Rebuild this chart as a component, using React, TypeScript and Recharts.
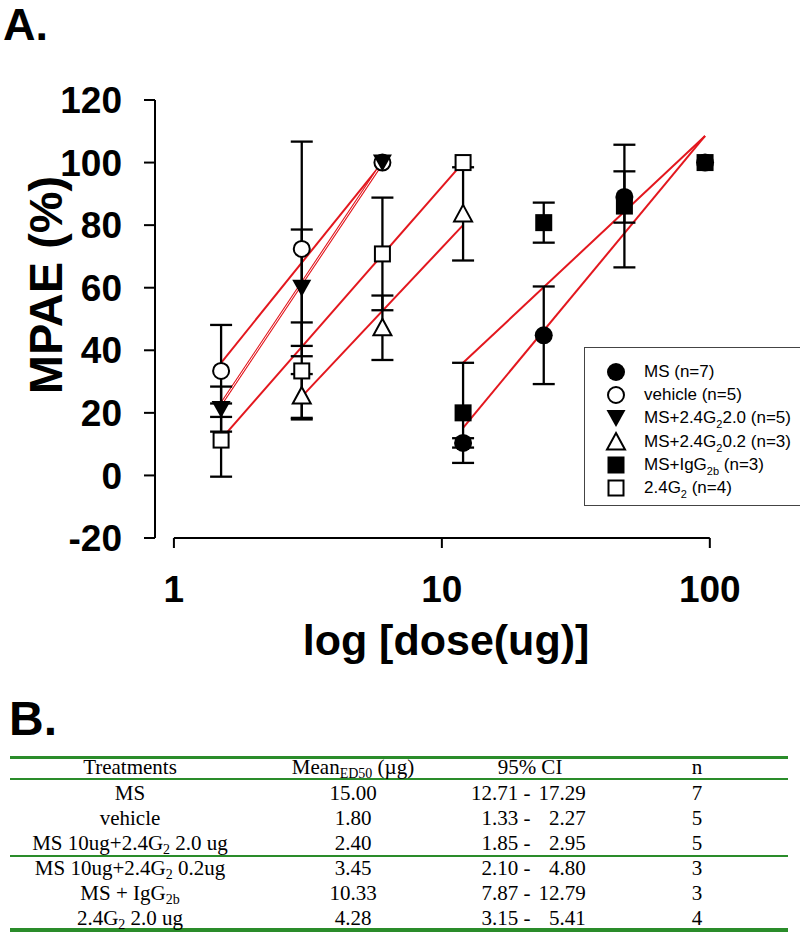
import React from "react";
import { ComposedChart, Scatter, Line, XAxis, YAxis, ErrorBar, ReferenceLine } from "recharts";

const RED = "#e3171e";
const GREEN = "#2a8c2a";
const SANS = "'Liberation Sans', Arial, sans-serif";
const SERIF = "'Liberation Serif', 'Times New Roman', serif";

// dose (ug), MPAE (%) and error for each group
const msDose = [12, 24, 48, 96];
const msMean = [10.4, 44.8, 89, 100];
const msErr = [1.5, 15.6, 8.2, 0];

const vehDose = [1.5, 3, 6];
const vehMean = [33.4, 72.4, 100];
const vehErr = [14.7, 34.3, 0];

const hiDose = [1.5, 3, 6];
const hiMean = [21.2, 60, 100];
const hiErr = [7.2, 18.6, 0];

const loDose = [3, 6, 12];
const loMean = [25.4, 47.2, 83.6];
const loErr = [7, 10.3, 14.9];

const igDose = [12, 24, 48, 96];
const igMean = [20, 80.8, 86.1, 100];
const igErr = [16, 6.4, 19.6, 0];

const g2Dose = [1.5, 3, 6, 12];
const g2Mean = [11.3, 33.4, 70.8, 100];
const g2Err = [11.7, 15.5, 18, 0];

// fitted regression lines (end points)
const vehFitDose = [1.5, 6];
const vehFit = [36, 100];
const hiFitDose = [1.5, 6];
const hiFit = [22.8, 100];
const g2FitDose = [1.5, 12];
const g2Fit = [11.6, 100];
const loFitDose = [3, 12];
const loFit = [25.2, 80];
const msFitDose = [12, 96];
const msFit = [15.2, 108.5];
const igFitDose = [12, 96];
const igFit = [36, 108.5];

const xTicks = [1, 10, 100];
const yTicks = [-20, 0, 20, 40, 60, 80, 100, 120];

// table B
const treatments = [
  ["MS", "", ""],
  ["vehicle", "", ""],
  ["MS 10ug+2.4G", "2", " 2.0 ug"],
  ["MS 10ug+2.4G", "2", " 0.2ug"],
  ["MS + IgG", "2b", ""],
  ["2.4G", "2", " 2.0 ug"],
];
const means = ["15.00", "1.80", "2.40", "3.45", "10.33", "4.28"];
const ciLow = ["12.71", "1.33", "1.85", "2.10", "7.87", "3.15"];
const ciHigh = ["17.29", "2.27", "2.95", "4.80", "12.79", "5.41"];
const ns = ["7", "5", "5", "3", "3", "4"];

const zip = (xs: number[], ys: number[], es?: number[]) =>
  xs.map((x, i) => ({ x, y: ys[i], e: es ? es[i] : 0 }));

const FilledCircle = (p: any) => <circle cx={p.cx} cy={p.cy} r={9} fill="#000" />;
const OpenCircle = (p: any) => <circle cx={p.cx} cy={p.cy} r={8} fill="#fff" stroke="#000" strokeWidth={2} />;
const DownTri = (p: any) => (
  <polygon points={`${p.cx - 9.5},${p.cy - 8} ${p.cx + 9.5},${p.cy - 8} ${p.cx},${p.cy + 9}`} fill="#000" />
);
const UpTri = (p: any) => (
  <polygon
    points={`${p.cx},${p.cy - 9} ${p.cx + 9},${p.cy + 7.5} ${p.cx - 9},${p.cy + 7.5}`}
    fill="#fff"
    stroke="#000"
    strokeWidth={2}
  />
);
const FilledSquare = (p: any) => <rect x={p.cx - 8.5} y={p.cy - 8.5} width={17} height={17} fill="#000" />;
const OpenSquare = (p: any) => (
  <rect x={p.cx - 7.5} y={p.cy - 7.5} width={15} height={15} fill="#fff" stroke="#000" strokeWidth={2} />
);

const groups = [
  { name: ["MS (n=7)", "", ""], shape: FilledCircle, data: zip(msDose, msMean, msErr) },
  { name: ["vehicle (n=5)", "", ""], shape: OpenCircle, data: zip(vehDose, vehMean, vehErr) },
  { name: ["MS+2.4G", "2", "2.0 (n=5)"], shape: DownTri, data: zip(hiDose, hiMean, hiErr) },
  { name: ["MS+2.4G", "2", "0.2 (n=3)"], shape: UpTri, data: zip(loDose, loMean, loErr) },
  { name: ["MS+IgG", "2b", " (n=3)"], shape: FilledSquare, data: zip(igDose, igMean, igErr) },
  { name: ["2.4G", "2", " (n=4)"], shape: OpenSquare, data: zip(g2Dose, g2Mean, g2Err) },
];

const fits = [
  zip(vehFitDose, vehFit),
  zip(g2FitDose, g2Fit),
  zip(loFitDose, loFit),
  zip(msFitDose, msFit),
  zip(igFitDose, igFit),
];

const tickFont = { fontSize: 37, fontWeight: "bold", fill: "#000", fontFamily: SANS };

function Legend() {
  return (
    <div
      style={{
        position: "absolute",
        left: 584,
        top: 347,
        width: 230,
        height: 159,
        border: "1px solid #444",
        boxSizing: "border-box",
        background: "#fff",
        fontFamily: SANS,
        fontSize: 17,
        paddingTop: 13,
      }}
    >
      {groups.map((g, i) => {
        const Shape = g.shape;
        return (
          <div key={i} style={{ height: 23.2, position: "relative" }}>
            <svg width={24} height={24} style={{ position: "absolute", left: 19, top: -1 }}>
              <Shape cx={12} cy={12} />
            </svg>
            <span style={{ position: "absolute", left: 59, top: 0, lineHeight: "22px", whiteSpace: "pre" }}>
              {g.name[0]}
              {g.name[1] && <span style={{ fontSize: 11, position: "relative", top: 5 }}>{g.name[1]}</span>}
              {g.name[2]}
            </span>
          </div>
        );
      })}
    </div>
  );
}

function Cell({ cx, cy, children }: { cx: number; cy: number; children: React.ReactNode }) {
  return (
    <div
      style={{
        position: "absolute",
        left: cx - 160,
        top: cy - 13,
        width: 320,
        lineHeight: "26px",
        textAlign: "center",
        whiteSpace: "pre",
      }}
    >
      {children}
    </div>
  );
}

const sub = (t: string) => <span style={{ fontSize: 14, position: "relative", top: 4 }}>{t}</span>;

function Table() {
  const rowY = [793, 818, 843, 868, 893, 918];
  const line = (y: number, h: number) => (
    <div style={{ position: "absolute", left: 10, width: 778, top: y - h / 2, height: h, background: GREEN }} />
  );
  return (
    <div style={{ position: "absolute", left: 0, top: 0, fontFamily: SERIF, fontSize: 21, color: "#000" }}>
      {line(757, 3)}
      {line(779, 2)}
      {line(856, 2)}
      {line(930, 4)}
      <Cell cx={130} cy={767}>Treatments</Cell>
      <Cell cx={353} cy={767}>
        Mean{sub("ED50")} (µg)
      </Cell>
      <Cell cx={530} cy={767}>95% CI</Cell>
      <Cell cx={697} cy={767}>n</Cell>
      {treatments.map((t, i) => (
        <React.Fragment key={i}>
          <Cell cx={130} cy={rowY[i]}>
            {t[0]}
            {t[1] && sub(t[1])}
            {t[2]}
          </Cell>
          <Cell cx={353} cy={rowY[i]}>{means[i]}</Cell>
          <Cell cx={527} cy={rowY[i]}>
            <span style={{ display: "inline-block", width: 50, textAlign: "right" }}>{ciLow[i]}</span>
            {" - "}
            <span style={{ display: "inline-block", width: 50, textAlign: "right" }}>{ciHigh[i]}</span>
          </Cell>
          <Cell cx={697} cy={rowY[i]}>{ns[i]}</Cell>
        </React.Fragment>
      ))}
    </div>
  );
}

export default function App() {
  return (
    <div style={{ position: "absolute", left: 0, top: 0, width: 800, height: 934, overflow: "hidden", background: "#fff" }}>
      <div style={{ position: "absolute", left: 3, top: 1, fontFamily: SANS, fontWeight: "bold", fontSize: 45, lineHeight: "48px" }}>
        A.
      </div>
      <div style={{ position: "absolute", left: 9, top: 694, fontFamily: SANS, fontWeight: "bold", fontSize: 48, lineHeight: "50px" }}>
        B.
      </div>
      <div style={{ position: "absolute", left: 0, top: 0 }}>
        <ComposedChart width={800} height={680} margin={{ top: 100, right: 43, bottom: 0, left: 0 }}>
          <XAxis
            dataKey="x"
            type="number"
            scale="log"
            domain={[0.85, 150]}
            allowDataOverflow
            ticks={xTicks}
            axisLine={false}
            tickLine={{ stroke: "#000", strokeWidth: 2 }}
            tickSize={10}
            tickMargin={28}
            height={142}
            tick={tickFont}
            label={{
              content: () => (
                <text x={446} y={655} textAnchor="middle" fontFamily={SANS} fontWeight="bold" fontSize={43} fill="#000">
                  log [dose(ug)]
                </text>
              ),
            }}
          />
          <YAxis
            dataKey="y"
            type="number"
            domain={[-20, 120]}
            allowDataOverflow
            ticks={yTicks}
            width={155}
            axisLine={{ stroke: "#000", strokeWidth: 2 }}
            tickLine={{ stroke: "#000", strokeWidth: 2 }}
            tickSize={11}
            tickMargin={22}
            tick={tickFont}
            label={{
              content: () => (
                <text
                  x={62}
                  y={285}
                  transform="rotate(-90 62 285)"
                  textAnchor="middle"
                  fontFamily={SANS}
                  fontWeight="bold"
                  fontSize={47}
                  fill="#000"
                >
                  MPAE (%)
                </text>
              ),
            }}
          />
          <ReferenceLine
            segment={[
              { x: 1, y: -20 },
              { x: 100, y: -20 },
            ]}
            stroke="#000"
            strokeWidth={2}
            ifOverflow="visible"
          />
          {fits.map((d, i) => (
            <Line
              key={i}
              data={d}
              dataKey="y"
              type="linear"
              stroke={RED}
              strokeWidth={2}
              dot={false}
              isAnimationActive={false}
            />
          ))}
          <Line data={zip(hiFitDose, hiFit)} dataKey="y" type="linear" stroke={RED} strokeWidth={3} dot={false} isAnimationActive={false} />
          <Line data={zip(hiFitDose, hiFit)} dataKey="y" type="linear" stroke="#fff" strokeWidth={1} dot={false} isAnimationActive={false} />
          {groups.map((g, i) => (
            <Scatter key={i} data={g.data} dataKey="y" shape={g.shape} isAnimationActive={false}>
              <ErrorBar dataKey="e" direction="y" width={11} stroke="#000" strokeWidth={2.3} />
            </Scatter>
          ))}
        </ComposedChart>
      </div>
      <Legend />
      <Table />
    </div>
  );
}
